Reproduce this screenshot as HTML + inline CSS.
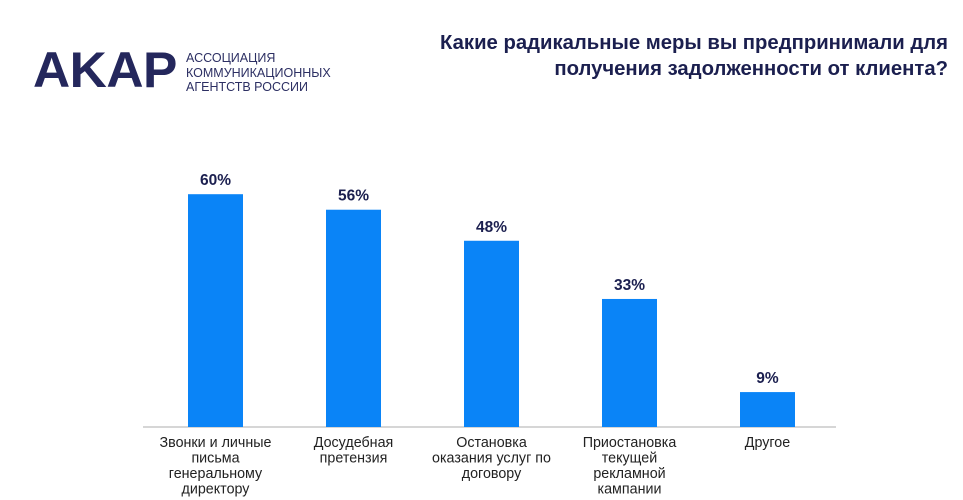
<!DOCTYPE html>
<html><head><meta charset="utf-8"><style>
body{margin:0;width:963px;height:500px;background:#fff;overflow:hidden;font-family:"Liberation Sans","DejaVu Sans",sans-serif;position:relative}
.logo{position:absolute;left:33px;top:45px;font-weight:bold;font-size:50px;color:#24275c;letter-spacing:-0.5px;line-height:50px;transform:scaleX(1.03);transform-origin:left}
.sub{position:absolute;left:186px;top:51px;font-size:12.5px;line-height:14.5px;color:#2c2f63}
.title{position:absolute;right:15px;top:30px;text-align:right;font-weight:bold;font-size:20.3px;line-height:26px;color:#1b1f4f}
</style></head><body>
<div class="logo">AKAP</div>
<div class="sub">АССОЦИАЦИЯ<br>КОММУНИКАЦИОННЫХ<br>АГЕНТСТВ РОССИИ</div>
<div class="title">Какие радикальные меры вы предпринимали для<br>получения задолженности от клиента?</div>
<svg id="chart" width="963" height="500" style="position:absolute;left:0;top:0"></svg>
<script>
const categories=[["Звонки и личные","письма","генеральному","директору"],["Досудебная","претензия"],["Остановка","оказания услуг по","договору"],["Приостановка","текущей","рекламной","кампании"],["Другое"]];
const values=[60,56,48,33,9];
const labels=["60%","56%","48%","33%","9%"];
const NS="http://www.w3.org/2000/svg";
const svg=document.getElementById('chart');
const base=427, pxPer=3.88, x0=188, step=138, bw=55;
function y(v){return base-v*pxPer;}
function x(i){return x0+i*step;}
function mk(t,a){const e=document.createElementNS(NS,t);for(const k in a)e.setAttribute(k,a[k]);svg.appendChild(e);return e;}
const ax=mk('line',{x1:143,x2:836,y1:base,y2:base,stroke:'#d6d6d6','stroke-width':2});


values.forEach((v,i)=>{
 const r=mk('rect',{x:x(i),y:y(v),width:bw,height:base-y(v),fill:'#0a84f7'});
 
 
 const t=mk('text',{x:x(i)+bw/2,y:y(v)-9,'text-anchor':'middle','font-size':15.5,'font-weight':'bold',fill:'#1b1f4f'});
 t.textContent=labels[i];
 
 
 const g=mk('text',{'text-anchor':'middle','font-size':14.3,fill:'#222'});
 
 
 categories[i].forEach((ln,j)=>{const s=document.createElementNS(NS,'tspan');s.setAttribute('x',x(i)+bw/2);s.setAttribute('y',447+j*15.5);s.textContent=ln;g.appendChild(s);});
});
</script>
</body></html>
